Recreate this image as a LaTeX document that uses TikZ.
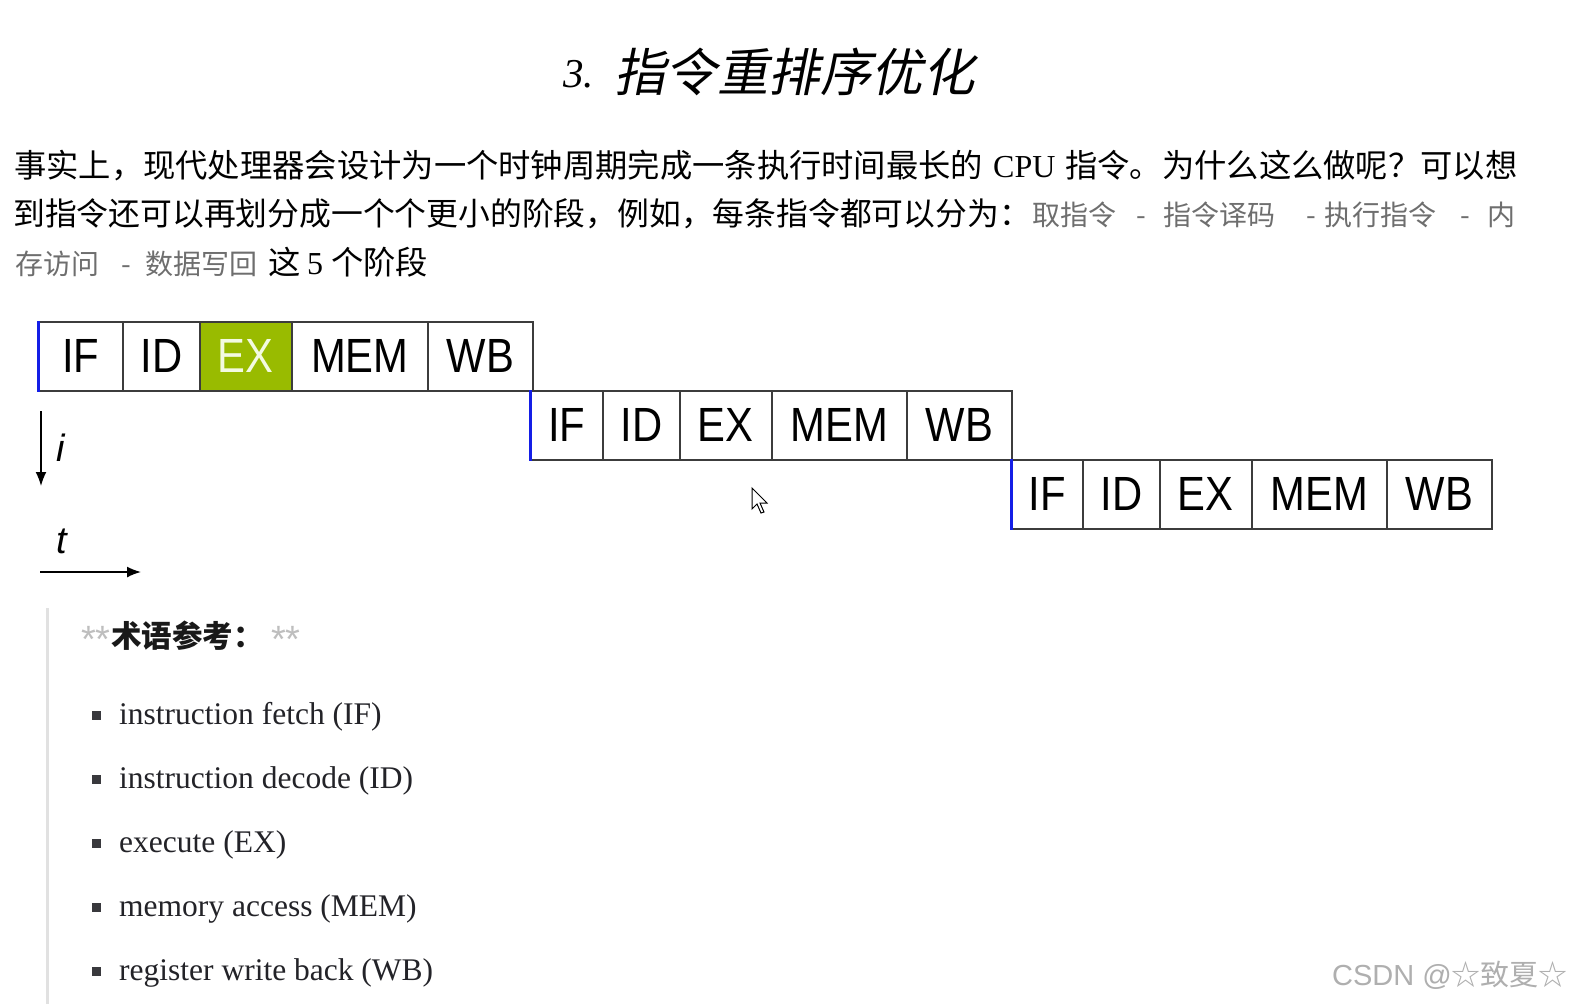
\documentclass[tikz,border=0pt]{standalone}
\usepackage{fontspec}
\usetikzlibrary{arrows.meta}
\setmainfont{Liberation Serif}
\newfontfamily\cjk{Noto Sans CJK SC}
\newfontfamily\cjktitle{Noto Sans CJK SC}[FakeSlant=0.2]
\newfontfamily\pipefont{Liberation Sans}[FakeStretch=0.87]
\newfontfamily\lsans{Liberation Sans}
\definecolor{exgreen}{RGB}{153,187,0}
\definecolor{extext}{RGB}{243,250,225}
\definecolor{edgeblue}{RGB}{20,30,230}
\definecolor{boxline}{RGB}{60,60,60}
\definecolor{graytxt}{RGB}{110,110,110}
\definecolor{listtxt}{RGB}{35,35,40}
\definecolor{quotebar}{RGB}{225,225,225}
\definecolor{starcol}{RGB}{190,190,190}
\definecolor{wmark}{RGB}{175,175,175}
\tikzset{
  cell/.style={draw=boxline, line width=1.6pt, inner sep=0pt, minimum height=69pt,
    anchor=north west, font=\pipefont\fontsize{48}{48}\selectfont},
  txt/.style={inner sep=0pt, anchor=base west},
  blk/.style={txt, font=\cjk\fontsize{32.3}{32}\selectfont},
  gry/.style={txt, text=graytxt, font=\cjk\fontsize{28}{28}\selectfont},
  lat/.style={txt, font=\fontsize{32}{32}\selectfont},
  item/.style={txt, text=listtxt, font=\fontsize{31.5}{31}\selectfont},
  bul/.style={fill=listtxt!90, inner sep=0pt, minimum size=9pt, draw=none},
  blueedge/.style={draw=edgeblue, line width=3pt},
  axis/.style={line width=1.6pt, -{Latex[length=14pt,width=11pt]}},
  axlabel/.style={inner sep=0pt, anchor=base west, font=\lsans\itshape\fontsize{38}{38}\selectfont},
  star/.style={txt, text=starcol, font=\lsans\fontsize{38}{38}\selectfont}
}
\begin{document}
\begin{tikzpicture}[x=1pt,y=-1pt]
\useasboundingbox[fill=white] (0,0) rectangle (1571,1004);

% title
\node[txt, font=\itshape\fontsize{41}{41}\selectfont] (t3) at (563,87) {3.};
\node[txt, font=\cjktitle\fontsize{51.5}{52}\selectfont] (title) at (614,91) {指令重排序优化};

% paragraph
\node[blk] (p1a) at (14,177) {事实上，现代处理器会设计为一个时钟周期完成一条执行时间最长的};
\node[lat] (p1b) at (993,177) {CPU};
\node[blk] (p1c) at (1065,177) {指令。为什么这么做呢？可以想};
\node[blk, font=\cjk\fontsize{31.8}{32}\selectfont] (p2a) at (13,225) {到指令还可以再划分成一个个更小的阶段，例如，每条指令都可以分为：};
\node[gry] (g1) at (1032,225) {取指令};
\node[gry] (d1) at (1136,225) {-};
\node[gry] (g2) at (1163,225) {指令译码};
\node[gry] (d2) at (1306,225) {-};
\node[gry] (g3) at (1324,225) {执行指令};
\node[gry] (d3) at (1460,225) {-};
\node[gry] (g4) at (1487,225) {内};
\node[gry] (g5) at (15,274) {存访问};
\node[gry] (d4) at (121,274) {-};
\node[gry] (g6) at (145,274) {数据写回};
\node[blk] (p3a) at (268,274) {这};
\node[lat] (p3b) at (307,274) {5};
\node[blk] (p3c) at (331,274) {个阶段};

% pipeline row 1
\node[cell, minimum width=84pt] (r1if) at (38,321) {IF};
\node[cell, minimum width=77pt] (r1id) at (122,321) {ID};
\node[cell, minimum width=92pt, fill=exgreen, text=extext] (r1ex) at (199,321) {EX};
\node[cell, minimum width=136pt] (r1mem) at (291,321) {MEM};
\node[cell, minimum width=105pt] (r1wb) at (427,321) {WB};
% row 2
\node[cell, minimum width=72pt] (r2if) at (530,390) {IF};
\node[cell, minimum width=77pt] (r2id) at (602,390) {ID};
\node[cell, minimum width=92pt] (r2ex) at (679,390) {EX};
\node[cell, minimum width=135pt] (r2mem) at (771,390) {MEM};
\node[cell, minimum width=105pt] (r2wb) at (906,390) {WB};
% row 3
\node[cell, minimum width=71pt] (r3if) at (1011,459) {IF};
\node[cell, minimum width=77pt] (r3id) at (1082,459) {ID};
\node[cell, minimum width=92pt] (r3ex) at (1159,459) {EX};
\node[cell, minimum width=135pt] (r3mem) at (1251,459) {MEM};
\node[cell, minimum width=105pt] (r3wb) at (1386,459) {WB};
\draw[blueedge] (r1if.north west) -- (r1if.south west);
\draw[blueedge] (r2if.north west) -- (r2if.south west);
\draw[blueedge] (r3if.north west) -- (r3if.south west);

% axes
\coordinate (iA) at (41,411);
\coordinate (iB) at (41,486);
\draw[axis] (iA) -- (iB);
\node[axlabel] (ilab) at (56,461) {i};
\coordinate (tA) at (40,572);
\coordinate (tB) at (141,572);
\draw[axis] (tA) -- (tB);
\node[axlabel] (tlab) at (56,553) {t};

% mouse cursor
\draw[fill=white, draw=black, line width=1pt, line join=miter]
  (752,488) -- (752,509) -- (757,504) -- (761,513) -- (764,512) -- (760,503) -- (767,503) -- cycle;

% terminology block
\fill[quotebar] (46,608) rectangle (49,1004);
\node[star] (s1) at (81,652) {**};
\node[txt, font=\cjk\bfseries\fontsize{30.5}{30}\selectfont, text=black!90] (term) at (111,647) {术语参考：};
\node[star] (s2) at (271,652) {**};

\node[bul] (b1) at (96,715) {};
\node[item] (l1) at (119,724) {instruction fetch (IF)};
\node[bul] (b2) at (96,779) {};
\node[item] (l2) at (119,788) {instruction decode (ID)};
\node[bul] (b3) at (96,843) {};
\node[item] (l3) at (119,852) {execute (EX)};
\node[bul] (b4) at (96,907) {};
\node[item] (l4) at (119,916) {memory access (MEM)};
\node[bul] (b5) at (96,971) {};
\node[item] (l5) at (119,980) {register write back (WB)};

% watermark
\node[txt, text=wmark, font=\lsans\fontsize{29}{29}\selectfont] (wm) at (1332,985) {CSDN @{\cjk ☆致夏☆}};
\end{tikzpicture}
\end{document}
